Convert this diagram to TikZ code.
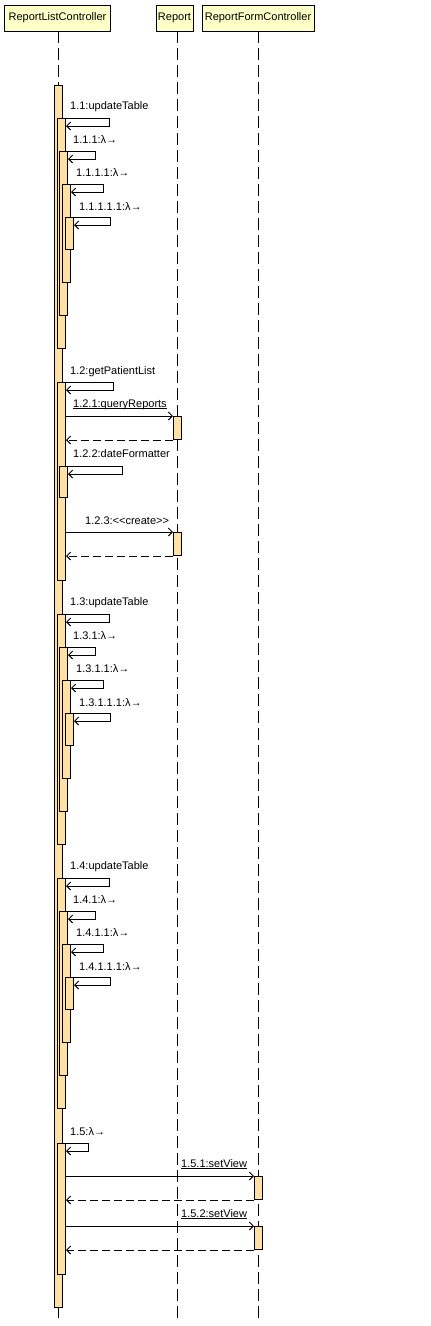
\documentclass[tikz,border=0pt]{standalone}
\usepackage{fontspec}
\setmainfont{Liberation Sans}
\usetikzlibrary{arrows.meta,calc}
\definecolor{headfill}{RGB}{255,255,200}
\definecolor{actfill}{RGB}{255,224,165}
\begin{document}
\begin{tikzpicture}[x=1pt,y=-1pt,
  every node/.style={font=\fontsize{11}{13}\selectfont},
  head/.style={draw=black, fill=headfill, line width=1pt, minimum height=26pt, inner sep=0pt},
  actbar/.style={draw=black, fill=actfill, line width=1pt, minimum width=8pt, inner sep=0pt, anchor=north west},
  lab/.style={inner sep=0pt, anchor=base west},
  life/.style={draw=black, line width=1pt, dash pattern=on 12pt off 5pt},
  msg/.style={draw=black, line width=1pt, -{Straight Barb[length=4pt,width=8pt]}},
  ret/.style={msg, dash pattern=on 8pt off 4pt},
  uline/.style={draw=black, line width=1pt}
]
\useasboundingbox[fill=white] (0,0) rectangle (431,1326);

% headers
\node[head, minimum width=106pt] (rlc) at (57.5,18) {ReportListController};
\node[head, minimum width=37pt] (rep) at (174.5,18) {Report};
\node[head, minimum width=112pt] (rfc) at (258,18) {ReportFormController};

% lifelines
\coordinate (t1) at (58,31);  \coordinate (b1) at (58,1320);
\coordinate (t2) at (177,31); \coordinate (b2) at (177,1320);
\coordinate (t3) at (258,31); \coordinate (b3) at (258,1320);
\draw[life] (t1) -- (b1);
\draw[life] (t2) -- (b2);
\draw[life] (t3) -- (b3);

% outer activation
\node[actbar, minimum height=1222pt] (outer) at (54,85) {};

% groups 1.1, 1.3, 1.4
\foreach \g/\b in {1/118,3/614,4/878}{
  \node[actbar, minimum height=230pt] (A\g) at (57,\b) {};
  \draw[msg] (outer.east |- A\g.north) -- ++(46,0) -- ++(0,8) -- ($(A\g.north east)+(0,8)$);
  \node[actbar, minimum height=164pt] (B\g) at (59,\b+33) {};
  \draw[msg] (A\g.east |- B\g.north) -- ++(29,0) -- ++(0,8) -- ($(B\g.north east)+(0,8)$);
  \node[actbar, minimum height=98pt] (C\g) at (62,\b+66) {};
  \draw[msg] (B\g.east |- C\g.north) -- ++(35,0) -- ++(0,8) -- ($(C\g.north east)+(0,8)$);
  \node[actbar, minimum height=32pt] (D\g) at (65,\b+99) {};
  \draw[msg] (C\g.east |- D\g.north) -- ++(39,0) -- ++(0,8) -- ($(D\g.north east)+(0,8)$);
  \node[lab] (LA\g) at (70,\b-9) {1.\g:updateTable};
  \node[lab] (LB\g) at (73,\b+25) {1.\g.1:λ→};
  \node[lab] (LC\g) at (76,\b+58) {1.\g.1.1:λ→};
  \node[lab] (LD\g) at (79,\b+92) {1.\g.1.1.1:λ→};
}

% group 1.2
\node[actbar, minimum height=198pt] (E) at (57,382) {};
\draw[msg] (outer.east |- E.north) -- ++(50,0) -- ++(0,8) -- ($(E.north east)+(0,8)$);
\node[lab] (l12) at (70,374) {1.2:getPatientList};

\node[actbar, minimum height=23pt] (R1) at (173,416) {};
\draw[msg] (E.east |- R1.north) -- (R1.north west);
\draw[ret] (R1.south west) -- (E.east |- R1.south);
\node[lab] (l121) at (73,407) {1.2.1:queryReports};
\draw[uline] ([yshift=-1.5pt]l121.base west) -- ([yshift=-1.5pt]l121.base east);

\node[actbar, minimum height=31pt] (F) at (59,466) {};
\draw[msg] (E.east |- F.north) -- ++(56,0) -- ++(0,8) -- ($(F.north east)+(0,8)$);
\node[lab] (l122) at (73,457) {1.2.2:dateFormatter};

\node[actbar, minimum height=23pt] (R2) at (173,532) {};
\draw[msg] (E.east |- R2.north) -- (R2.north west);
\draw[ret] (R2.south west) -- (E.east |- R2.south);
\node[lab] (l123) at (85,524) {1.2.3:<{}<create>{}>};

% group 1.5
\node[actbar, minimum height=131pt] (G) at (57,1143) {};
\draw[msg] (outer.east |- G.north) -- ++(25,0) -- ++(0,8) -- ($(G.north east)+(0,8)$);
\node[lab] (l15) at (70,1135) {1.5:λ→};

\node[actbar, minimum height=23pt] (S1) at (254,1176) {};
\draw[msg] (G.east |- S1.north) -- (S1.north west);
\draw[ret] (S1.south west) -- (G.east |- S1.south);
\node[lab] (l151) at (181,1167) {1.5.1:setView};
\draw[uline] ([yshift=-1.5pt]l151.base west) -- ([yshift=-1.5pt]l151.base east);

\node[actbar, minimum height=23pt] (S2) at (254,1226) {};
\draw[msg] (G.east |- S2.north) -- (S2.north west);
\draw[ret] (S2.south west) -- (G.east |- S2.south);
\node[lab] (l152) at (181,1217) {1.5.2:setView};
\draw[uline] ([yshift=-1.5pt]l152.base west) -- ([yshift=-1.5pt]l152.base east);
\end{tikzpicture}
\end{document}
